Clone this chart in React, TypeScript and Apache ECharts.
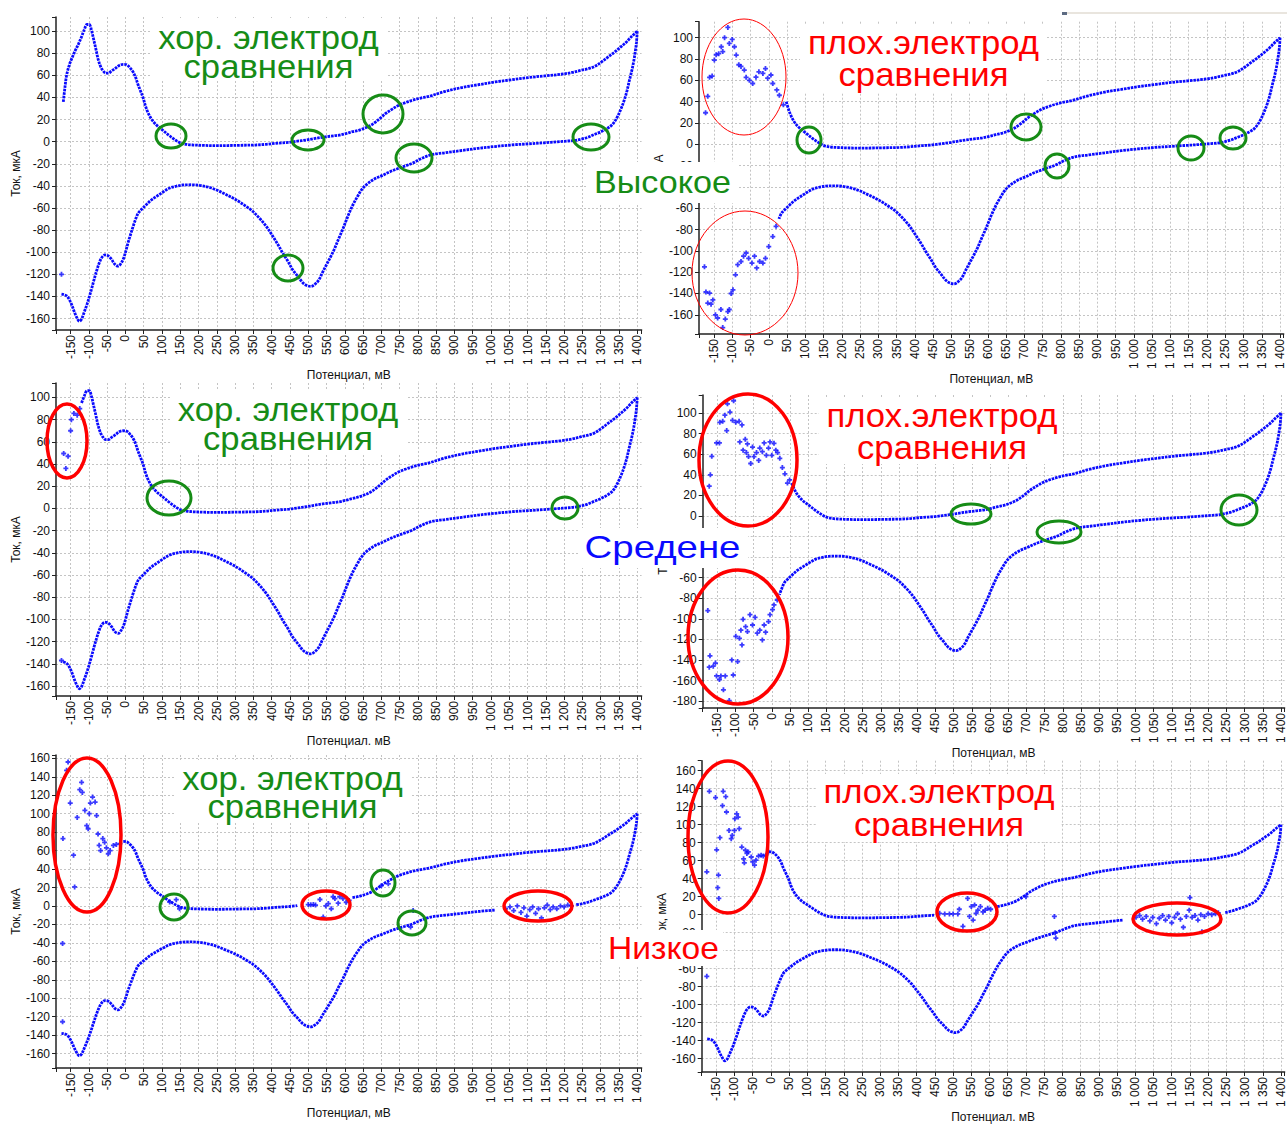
import React, { useEffect, useRef } from 'react';
import * as echarts from 'echarts';

// ---------- DATA ----------
const xTickStep = 50;
const yTickStep = 20;

const upperBranch: [number, number][] = [
  [-170, 36], [-167, 45], [-161, 60], [-153, 70], [-147, 75], [-138, 82], [-129, 88], [-120, 95], [-113, 101],
  [-105, 106], [-99, 106], [-93, 101], [-88, 94], [-81, 84], [-75, 75], [-68, 68], [-61, 64], [-54, 62], [-47, 62],
  [-38, 64], [-29, 66], [-17, 69], [-6, 70], [4, 69.5], [12, 67], [21, 63], [28, 58], [34, 52], [41, 46], [48, 40],
  [55, 32], [62, 26], [72, 20], [85, 15], [96, 12], [107, 9], [118, 6], [130, 3], [141, 0.5], [153, -1.5], [170, -2.6],
  [185, -3], [215, -3.4], [248, -3.6], [280, -3.5], [312, -3.3], [357, -3], [385, -2.4], [412, -1.5], [448, -0.6],
  [470, 0.4], [494, 1.5], [516, 2.8], [539, 4], [562, 5], [585, 6], [605, 7.5], [621, 9], [640, 10.5], [657, 12.6],
  [672, 15], [685, 18], [698, 21.5], [712, 25.5], [730, 29.5], [748, 33], [767, 35.5], [785, 37.5], [808, 39.5],
  [830, 41], [875, 45.5], [920, 49], [965, 51.5], [1011, 54], [1056, 56], [1102, 58], [1147, 59.5], [1192, 61],
  [1222, 62.6], [1247, 64.6], [1266, 66], [1283, 68], [1302, 72], [1320, 76.6], [1338, 81], [1356, 86], [1370, 90],
  [1383, 94.6], [1392, 97.5], [1400, 100],
];

const lowerBranch: [number, number][] = [
  [1400, 100], [1398, 90], [1394, 80], [1390, 72], [1385, 64], [1379, 56], [1372, 46], [1365, 38], [1356, 30],
  [1345, 22], [1332, 15.5], [1318, 12], [1301, 9], [1283, 6.5], [1265, 4], [1247, 2.3], [1230, 1.2], [1211, 0.6],
  [1180, -0.2], [1147, -1], [1100, -2], [1056, -3], [1010, -4.4], [965, -6], [920, -8], [875, -10], [850, -11],
  [830, -12.5], [808, -15.5], [785, -19.5], [765, -22], [748, -24], [725, -27], [703, -30.5], [680, -34],
  [657, -39.5], [645, -44], [635, -49.5], [624, -56], [612, -64.6], [603, -72], [594, -79.6], [583, -88],
  [571, -97.6], [560, -105], [548, -112.6], [538, -119], [530, -124.6], [520, -128.5], [507, -131], [495, -130],
  [485, -127.6], [472, -122], [457, -115.6], [444, -108], [430, -100.6], [417, -93], [403, -85.6], [385, -76.5],
  [366, -69], [348, -63], [330, -58.6], [312, -54.5], [294, -51], [270, -47], [248, -43.5], [225, -41], [203, -39.5],
  [180, -39], [157, -39.2], [139, -40.3], [121, -42], [103, -45.5], [85, -49.5], [70, -53], [57, -57], [45, -61],
  [35, -64.6], [28, -70], [21, -76.6], [14, -84], [7, -91.6], [1, -99], [-5, -105.5], [-12, -110], [-20, -112.6],
  [-29, -111], [-38, -106.5], [-47, -103.3], [-56, -102.5], [-65, -105], [-72, -110], [-79, -117], [-86, -125],
  [-93, -133.6], [-99, -140.5], [-105, -147], [-112, -153.5], [-120, -160.5], [-126, -162.5], [-134, -158.5],
  [-141, -153], [-147, -147.5], [-155, -142], [-161, -139.5], [-168, -138.5], [-175, -138],
];

const p1Stray: [number, number][] = [[-175, -120]];

const p2UpperNoise: [number, number][] = [
  [-173, 29.6], [-167, 45], [-162, 62.8], [-155, 64], [-149, 79], [-144, 84], [-137, 85], [-130, 91.5], [-126, 87],
  [-121, 100], [-112, 109.6], [-108, 94.6], [-100, 98.4], [-94, 91.5], [-89, 83.7], [-82, 74.6], [-76, 73],
  [-67, 69.6], [-62, 62.8], [-53, 60], [-44, 57], [-35, 63], [-27, 68], [-16, 66.5], [-9, 71], [-3, 62], [6, 65],
  [11, 57], [22, 51], [29, 46], [40, 37],
];
const p2LowerNoise: [number, number][] = [
  [-176, -115], [-172, -138.6], [-162, -139.6], [-167, -149], [-158, -150], [-153, -146], [-146, -160], [-140, -163],
  [-131, -155], [-126, -172], [-119, -164], [-112, -157], [-108, -155], [-103, -140], [-98, -136.6], [-91, -122.5],
  [-85, -113], [-76, -110], [-69, -105], [-62, -102], [-55, -107], [-46, -111.5], [-39, -105], [-33, -116],
  [-25, -110], [-16, -111.5], [-9, -107], [0, -96], [11, -86.6], [20, -77],
];

const p3UpperNoise: [number, number][] = [
  [-169, 49.5], [-163, 36], [-157, 47], [-150, 70], [-148, 80], [-141, 85.6], [-132, 84], [-125, 90], [-175, -137],
];

const p4UpperNoise: [number, number][] = [
  [-172, 29], [-169, 40], [-165, 58], [-152, 71], [-144, 71], [-143, 91], [-135, 92], [-129, 98], [-124, 83],
  [-122, 109], [-115, 101], [-108, 93], [-105, 112], [-99, 91], [-90, 92], [-82, 88.5], [-88, 72], [-73, 74.5],
  [-79, 64], [-67, 70], [-70, 61.6], [-64, 57.7], [-58, 51], [-53, 67], [-49, 57.7], [-42, 61.6], [-36, 54],
  [-33, 66], [-26, 62.5], [-21, 71], [-15, 59], [-9, 66], [-5, 72], [0, 59], [6, 70.6], [11, 64], [16, 61.6],
  [22, 56], [29, 47], [36, 41], [43, 32], [49, 35],
];
const p4LowerNoise: [number, number][] = [
  [-176, -92], [-170, -136], [-172, -147], [-161, -146], [-155, -143], [-152, -155.5], [-144, -159], [-140, -155.5],
  [-133, -169], [-128, -155.5], [-117, -179.5], [-110, -140], [-106, -154.6], [-99, -117], [-94, -141.6],
  [-89, -119], [-82, -125.4], [-85, -111], [-79, -100.5], [-72, -107.6], [-67, -112.4], [-60, -96], [-53, -106],
  [-46, -98.5], [-40, -114], [-33, -111], [-26, -120.5], [-21, -106], [-17, -113], [-9, -102.7], [-5, -96],
  [2, -91], [6, -86.5], [15, -81.7],
];

const p5UpperNoise: [number, number][] = [
  [-171, 73], [-161, 147], [-157, 156], [-151, 111.5], [-142, 55], [-139, 20.6], [-132, 96], [-125, 126],
  [-120, 134], [-118, 123], [-111, 103.6], [-106, 87], [-102, 83.7], [-99, 100], [-96, 111.5], [-90, 118],
  [-83, 112.6], [-79, 98], [-75, 78], [-72, 65.7], [-68, 60], [-62, 73], [-57, 69], [-52, 63], [-47, 56.6],
  [-42, 60], [-33, 65.6], [-25, 66.7], [-15, 67.5], [-172, -40.7], [-172, -125.5],
];
const p5MidNoise: [number, number][] = [
  [121, 4.3], [139, 6.8], [148, -3], [500, 1.5], [507, 1.2], [514, 1.5], [520, 1], [532, 7], [541, -12], [548, 0],
  [555, 2.6], [563, -3], [568, 10], [573, 8], [582, 3], [586, 10], [595, 8], [604, 4], [612, 6], [700, 22],
  [719, 24], [780, -22.8], [787, -5],
];
const p5LowerNoise: [number, number][] = [
  [1040, -3], [1052, -1], [1062, -5], [1072, 0], [1082, -7], [1090, -2], [1098, -11], [1106, -4], [1114, -1],
  [1122, -8], [1130, -3], [1138, -13], [1146, -2], [1154, 1], [1162, -4], [1170, -1], [1180, -3], [1190, 0],
  [1200, -1], [1210, 1], [1220, 0],
];

const p6UpperNoise: [number, number][] = [
  [-176, 47.6], [-169, 137], [-152, 130], [-149, 72], [-144, 44], [-146, 30], [-143, 18], [-140, 85.5], [-131, 137],
  [-133, 121], [-124, 131], [-122, 114], [-115, 93.6], [-109, 84.4], [-106, 88], [-100, 93.6], [-99, 106.6],
  [-94, 112], [-90, 108.4], [-87, 95.5], [-80, 75], [-75, 62], [-70, 71.5], [-66, 68], [-73, 57.6], [-62, 69.7],
  [-54, 64], [-50, 58.6], [-45, 55], [-41, 60.5], [-34, 65], [-27, 66], [-21, 65], [-14, 66], [-7, 69.7],
  [-176, -68.5],
];
const p6MidNoise: [number, number][] = [
  [463, 1.5], [477, 0.8], [490, 0.8], [500, 0.8], [513, 0.8], [517, 6], [527, -13], [540, 18], [545, -2], [550, 9],
  [555, -6], [559, 10.7], [563, 1.5], [568, 5], [575, 9], [582, 3], [588, 5], [595, 7], [603, 6], [700, 20],
  [778, -2], [780, -20], [782, -26],
];
const p6LowerNoise: [number, number][] = [
  [1002, -3], [1012, -1], [1020, -5], [1030, -2], [1040, -7], [1048, -3], [1058, -10], [1066, -4], [1075, -1],
  [1083, -6], [1092, -2], [1100, -9], [1108, -3], [1116, 1], [1124, -5], [1132, -14], [1140, -2], [1148, 5],
  [1150, 19], [1156, -3], [1164, -1], [1172, -6], [1180, 0], [1183, -19], [1190, -2], [1200, 1], [1210, 0],
  [1220, 1], [1228, 2],
];

const xNames = ['Потенциал, мВ', 'Потенциал, мВ', 'Потенциал. мВ', 'Потенциал, мВ', 'Потенциал, мВ', 'Потенциал. мВ'];
const yName = 'Ток, мкА';
const goodTitle = 'хор. электрод\nсравнения';
const badTitle = 'плох.электрод\nсравнения';
const levelLabels = ['Высокое', 'Средене', 'Низкое'];

// ---------- HELPERS ----------
const part = (arr: [number, number][], lo: number, hi: number) => arr.filter((p) => p[0] >= lo && p[0] <= hi);

const BLUE = '#0a0aff';
const GREEN = '#168c16';
const RED = '#ff0000';

type Panel = {
  left: number; top: number; width: number; height: number;
  xMin: number; xMax: number; yMin: number; yMax: number;
  lines: [number, number][][]; dots: [number, number][];
};

const panels: Panel[] = [
  { left: 56, top: 17, width: 585.6, height: 313, xMin: -190, xMax: 1412, yMin: -170.4, yMax: 112.8,
    lines: [upperBranch, lowerBranch], dots: p1Stray },
  { left: 699, top: 21.7, width: 584.7, height: 312.3, xMin: -191, xMax: 1410, yMin: -178, yMax: 115,
    lines: [part(upperBranch, 48, 1400), part(lowerBranch, 28, 1400)], dots: [...p2UpperNoise, ...p2LowerNoise] },
  { left: 56, top: 383, width: 585.6, height: 313, xMin: -190, xMax: 1412, yMin: -169, yMax: 113,
    lines: [part(upperBranch, -120, 1400), lowerBranch], dots: p3UpperNoise },
  { left: 702.7, top: 395, width: 584, height: 313, xMin: -190, xMax: 1410, yMin: -186.7, yMax: 117.6,
    lines: [part(upperBranch, 55, 1400), part(lowerBranch, 21, 1400)], dots: [...p4UpperNoise, ...p4LowerNoise] },
  { left: 56, top: 755, width: 585.6, height: 313, xMin: -190, xMax: 1412, yMin: -175.6, yMax: 163.6,
    lines: [part(upperBranch, -6, 490), part(upperBranch, 612, 1400), part(lowerBranch, 1230, 1400), part(lowerBranch, -200, 1030)],
    dots: [...p5UpperNoise, ...p5MidNoise, ...p5LowerNoise] },
  { left: 701.7, top: 760.7, width: 584, height: 312, xMin: -190, xMax: 1410, yMin: -174.8, yMax: 171,
    lines: [part(upperBranch, -6, 455), part(upperBranch, 612, 1400), part(lowerBranch, 1232, 1400), part(lowerBranch, -200, 998)],
    dots: [...p6UpperNoise, ...p6MidNoise, ...p6LowerNoise] },
];

const fmtX = (v: number) => {
  const r = Math.round(v);
  if (Math.abs(v - r) > 1e-6 || r % xTickStep !== 0) return '';
  if (r >= 1000) return '1 ' + String(r - 1000).padStart(3, '0');
  return String(r);
};
const fmtY = (v: number) => {
  const r = Math.round(v);
  if (Math.abs(v - r) > 1e-6 || r % yTickStep !== 0) return '';
  return String(r);
};

const ellipses: { cx: number; cy: number; rx: number; ry: number; c: string; w: number }[] = [
  { cx: 171, cy: 136, rx: 15, ry: 12, c: GREEN, w: 3 },
  { cx: 308, cy: 140, rx: 16, ry: 10, c: GREEN, w: 3 },
  { cx: 383, cy: 114, rx: 20, ry: 19, c: GREEN, w: 3 },
  { cx: 414, cy: 158, rx: 18, ry: 14, c: GREEN, w: 3 },
  { cx: 288, cy: 268, rx: 15, ry: 13, c: GREEN, w: 3 },
  { cx: 591, cy: 137, rx: 18, ry: 13, c: GREEN, w: 3 },
  { cx: 744, cy: 77, rx: 42, ry: 58, c: RED, w: 1 },
  { cx: 745, cy: 273, rx: 53, ry: 62, c: RED, w: 1 },
  { cx: 809, cy: 140, rx: 12, ry: 13, c: GREEN, w: 3 },
  { cx: 1026, cy: 127, rx: 15, ry: 13, c: GREEN, w: 3 },
  { cx: 1057, cy: 166, rx: 12, ry: 12, c: GREEN, w: 3 },
  { cx: 1191, cy: 148, rx: 13, ry: 12, c: GREEN, w: 3 },
  { cx: 1233, cy: 138, rx: 13, ry: 11, c: GREEN, w: 3 },
  { cx: 67, cy: 441, rx: 20, ry: 37, c: RED, w: 3.5 },
  { cx: 169, cy: 498, rx: 22, ry: 17, c: GREEN, w: 3 },
  { cx: 565, cy: 508, rx: 13, ry: 11, c: GREEN, w: 3 },
  { cx: 748, cy: 460, rx: 49, ry: 66, c: RED, w: 3.5 },
  { cx: 738, cy: 637, rx: 50, ry: 67, c: RED, w: 3.5 },
  { cx: 971, cy: 514, rx: 20, ry: 10, c: GREEN, w: 3 },
  { cx: 1059, cy: 532, rx: 22, ry: 11, c: GREEN, w: 3 },
  { cx: 1239, cy: 510, rx: 18, ry: 15, c: GREEN, w: 3 },
  { cx: 87, cy: 835, rx: 34, ry: 77, c: RED, w: 3.5 },
  { cx: 174, cy: 907, rx: 14, ry: 13, c: GREEN, w: 3 },
  { cx: 326, cy: 905, rx: 24, ry: 14, c: RED, w: 3.5 },
  { cx: 383, cy: 883, rx: 12, ry: 13, c: GREEN, w: 3 },
  { cx: 412, cy: 923, rx: 14, ry: 12, c: GREEN, w: 3 },
  { cx: 538, cy: 906, rx: 34, ry: 15, c: RED, w: 3.5 },
  { cx: 728, cy: 837, rx: 40, ry: 76, c: RED, w: 3.5 },
  { cx: 967, cy: 912, rx: 30, ry: 19, c: RED, w: 3.5 },
  { cx: 1177, cy: 919, rx: 44, ry: 16, c: RED, w: 3.5 },
];

const titleBoxes = [
  { box: [150, 18, 236, 62], at: [268.5, 51.5], lh: 29, text: goodTitle, c: GREEN },
  { box: [800, 24, 246, 68], at: [923.5, 58], lh: 32, text: badTitle, c: RED },
  { box: [170, 391, 236, 62], at: [288, 423.5], lh: 29, text: goodTitle, c: GREEN },
  { box: [819, 398, 244, 66], at: [942, 431], lh: 32, text: badTitle, c: RED },
  { box: [174, 760, 236, 62], at: [292.5, 792], lh: 28, text: goodTitle, c: GREEN },
  { box: [816, 774, 244, 68], at: [939, 807.5], lh: 33, text: badTitle, c: RED },
];

const levelBoxes = [
  { box: [588, 162, 150, 41], at: [662.5, 183], text: levelLabels[0], c: GREEN, size: 31, sx: 1.1 },
  { box: [578, 528, 170, 40], at: [662.5, 547], text: levelLabels[1], c: BLUE, size: 32, sx: 1.2 },
  { box: [602, 930, 121, 36], at: [663.5, 948], text: levelLabels[2], c: RED, size: 32, sx: 1.05 },
];

const FONT = 'Liberation Sans';

export default function App() {
  const ref = useRef<HTMLDivElement>(null);
  useEffect(() => {
    if (!ref.current) return;
    const chart = echarts.init(ref.current, null, { renderer: 'svg' });

    const grid = panels.map((p) => ({ left: p.left, top: p.top, width: p.width, height: p.height, containLabel: false }));
    const xAxis = panels.map((p, i) => ({
      type: 'value', gridIndex: i, min: p.xMin, max: p.xMax, minInterval: xTickStep, maxInterval: xTickStep, splitNumber: 32,
      name: xNames[i], nameLocation: 'middle', nameGap: 39,
      nameTextStyle: { fontSize: 12, color: '#111', fontFamily: FONT },
      axisLine: { show: true, onZero: false, lineStyle: { color: '#222', width: 1.5 } },
      axisTick: { show: true, length: 4, lineStyle: { color: '#222' } },
      axisLabel: { rotate: 90, fontSize: 12, color: '#111', fontFamily: FONT, margin: 5, formatter: fmtX },
      splitLine: { show: true, showMaxLine: false, showMinLine: false, lineStyle: { color: '#c4c4c4', type: [2, 2], width: 1 } },
    }));
    const yAxis = panels.map((p, i) => ({
      type: 'value', gridIndex: i, min: p.yMin, max: p.yMax, minInterval: yTickStep, maxInterval: yTickStep, splitNumber: 15,
      name: yName, nameLocation: 'middle', nameGap: 34,
      nameTextStyle: { fontSize: 12, color: '#111', fontFamily: FONT },
      axisLine: { show: true, onZero: false, lineStyle: { color: '#222', width: 1.5 } },
      axisTick: { show: true, length: 4, lineStyle: { color: '#222' } },
      axisLabel: { fontSize: 12, color: '#111', fontFamily: FONT, margin: 6, formatter: fmtY },
      splitLine: { show: true, showMaxLine: false, showMinLine: false, lineStyle: { color: '#c4c4c4', type: [2, 2], width: 1 } },
    }));

    const series: any[] = [];
    panels.forEach((p, i) => {
      p.lines.forEach((seg) => {
        series.push({
          type: 'line', xAxisIndex: i, yAxisIndex: i, data: seg, smooth: 0.35, showSymbol: false,
          lineStyle: { color: BLUE, width: 2.8, type: [2.6, 0.9] }, silent: true, z: 3,
        });
      });
      series.push({
        type: 'scatter', xAxisIndex: i, yAxisIndex: i, data: p.dots,
        symbol: 'path://M1.6,0H3.4V1.6H5V3.4H3.4V5H1.6V3.4H0V1.6H1.6Z',
        symbolSize: 5, itemStyle: { color: BLUE }, silent: true, z: 3,
      });
    });

    const graphic: any[] = [];
    graphic.push({ type: 'rect', shape: { x: 1062, y: 12, width: 225, height: 2 }, style: { fill: '#e9e5de' }, z: 100, silent: true });
    graphic.push({ type: 'rect', shape: { x: 1062, y: 12, width: 5, height: 3 }, style: { fill: '#5d6b82' }, z: 100, silent: true });

    titleBoxes.forEach((t) => {
      graphic.push({ type: 'rect', shape: { x: t.box[0], y: t.box[1], width: t.box[2], height: t.box[3] }, style: { fill: '#fff' }, z: 100, silent: true });
      graphic.push({
        type: 'text', x: t.at[0], y: t.at[1], scaleX: 1.05, z: 101, silent: true,
        style: { text: t.text, fill: t.c, fontSize: 33, lineHeight: t.lh, fontFamily: FONT, textAlign: 'center', textVerticalAlign: 'middle', align: 'center', verticalAlign: 'middle' },
      });
    });
    levelBoxes.forEach((t) => {
      graphic.push({ type: 'rect', shape: { x: t.box[0], y: t.box[1], width: t.box[2], height: t.box[3] }, style: { fill: '#fff' }, z: 100, silent: true });
      graphic.push({
        type: 'text', x: t.at[0], y: t.at[1], scaleX: t.sx, z: 101, silent: true,
        style: { text: t.text, fill: t.c, fontSize: t.size, fontFamily: FONT, textAlign: 'center', textVerticalAlign: 'middle', align: 'center', verticalAlign: 'middle' },
      });
    });
    ellipses.forEach((e) => {
      graphic.push({ type: 'ellipse', shape: { cx: e.cx, cy: e.cy, rx: e.rx, ry: e.ry }, style: { fill: 'none', stroke: e.c, lineWidth: e.w }, z: 102, silent: true });
    });

    chart.setOption({
      animation: false,
      backgroundColor: '#ffffff',
      textStyle: { fontFamily: FONT },
      grid, xAxis, yAxis, series, graphic,
    });
    return () => chart.dispose();
  }, []);
  return <div ref={ref} style={{ position: 'absolute', left: 0, top: 0, width: 1287, height: 1124, background: '#fff' }} />;
}
